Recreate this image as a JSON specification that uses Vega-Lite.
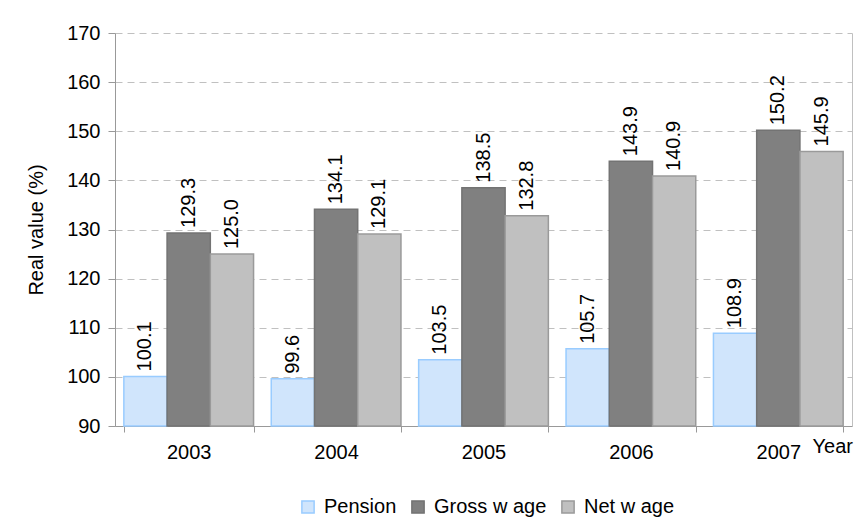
{
  "$schema": "https://vega.github.io/schema/vega-lite/v6.json",
  "width": 737,
  "height": 393,
  "autosize": {"type": "none"},
  "padding": {"left": 115, "top": 33, "right": 6, "bottom": 101},
  "background": "white",
  "data": {
    "values": [
      {"year": "2003", "series": "Pension", "value": 100.1},
      {"year": "2003", "series": "Gross w age", "value": 129.3},
      {"year": "2003", "series": "Net w age", "value": 125.0},
      {"year": "2004", "series": "Pension", "value": 99.6},
      {"year": "2004", "series": "Gross w age", "value": 134.1},
      {"year": "2004", "series": "Net w age", "value": 129.1},
      {"year": "2005", "series": "Pension", "value": 103.5},
      {"year": "2005", "series": "Gross w age", "value": 138.5},
      {"year": "2005", "series": "Net w age", "value": 132.8},
      {"year": "2006", "series": "Pension", "value": 105.7},
      {"year": "2006", "series": "Gross w age", "value": 143.9},
      {"year": "2006", "series": "Net w age", "value": 140.9},
      {"year": "2007", "series": "Pension", "value": 108.9},
      {"year": "2007", "series": "Gross w age", "value": 150.2},
      {"year": "2007", "series": "Net w age", "value": 145.9}
    ]
  },
  "encoding": {
    "x": {
      "field": "year", "type": "nominal",
      "scale": {"paddingInner": 0.12, "paddingOuter": 0.06},
      "axis": {
        "labelAngle": 0, "tickBand": "extent", "labelFontSize": 20, "labelColor": "#000",
        "labelPadding": 10, "tickSize": 6, "tickColor": "#999", "domainColor": "#999",
        "title": "Year", "titleFontSize": 20, "titleFontWeight": "normal", "titleColor": "#000",
        "titleX": 697, "titleY": 20, "titleAlign": "left", "titleBaseline": "middle", "titleAngle": 0
      }
    },
    "xOffset": {
      "field": "series", "type": "nominal",
      "sort": ["Pension", "Gross w age", "Net w age"],
      "scale": {"paddingInner": 0, "paddingOuter": 0}
    },
    "y": {
      "field": "value", "type": "quantitative",
      "scale": {"domain": [90, 170], "zero": false, "nice": false},
      "axis": {
        "values": [90, 100, 110, 120, 130, 140, 150, 160, 170],
        "labelFontSize": 20, "labelColor": "#000", "labelPadding": 8, "tickSize": 7,
        "tickColor": "#999", "domainColor": "#999",
        "gridColor": "#c0c0c0", "gridDash": [7, 5], "grid": true,
        "title": "Real value (%)", "titleFontSize": 20, "titleFontWeight": "normal",
        "titleColor": "#000", "titlePadding": 20
      }
    }
  },
  "layer": [
    {
      "mark": {"type": "bar", "strokeWidth": 1.5},
      "encoding": {
        "y2": {"datum": 90},
        "color": {
          "field": "series", "type": "nominal",
          "scale": {"domain": ["Pension", "Gross w age", "Net w age"], "range": ["#d0e5fc", "#808080", "#c0c0c0"]},
          "legend": {"title": null}
        },
        "stroke": {
          "field": "series", "type": "nominal",
          "scale": {"domain": ["Pension", "Gross w age", "Net w age"], "range": ["#99ccff", "#737373", "#9a9a9a"]},
          "legend": {"title": null}
        }
      }
    },
    {
      "mark": {"type": "text", "angle": -90, "align": "left", "baseline": "middle", "dx": 5, "fontSize": 20, "color": "#000"},
      "encoding": {
        "text": {"field": "value", "type": "quantitative", "format": ".1f"},
        "y": {
          "field": "value", "type": "quantitative",
          "axis": {"orient": "right", "labels": false, "ticks": false, "grid": false, "title": null, "domainColor": "#c0c0c0"}
        }
      }
    }
  ],
  "resolve": {"axis": {"y": "independent"}},
  "config": {
    "font": "Liberation Sans",
    "view": {"stroke": null},
    "legend": {
      "orient": "none", "legendX": 183, "legendY": 464, "direction": "horizontal",
      "symbolType": "square", "symbolSize": 150, "labelFontSize": 20, "labelColor": "#000",
      "columnPadding": 11, "symbolStrokeWidth": 1.5, "labelOffset": 6
    }
  }
}
